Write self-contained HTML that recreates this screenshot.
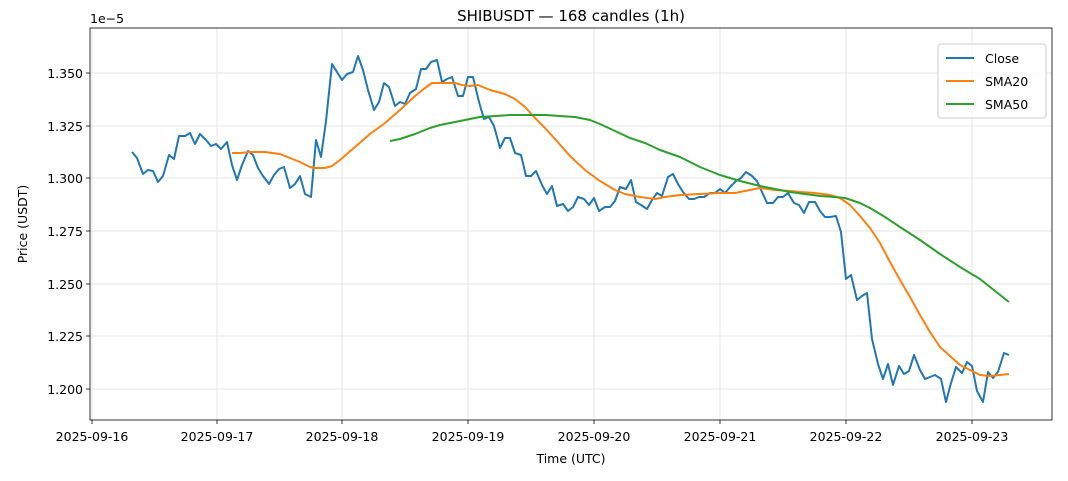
<!DOCTYPE html>
<html><head><meta charset="utf-8"><style>body{margin:0;background:#fff}svg{display:block;font-family:"DejaVu Sans","Liberation Sans",sans-serif}</style></head><body>
<svg width="1068" height="481" viewBox="0 0 1068 481">
<g stroke="#e5e5e5" stroke-width="1">
<line x1="92" y1="28" x2="92" y2="420"/><line x1="217" y1="28" x2="217" y2="420"/><line x1="342" y1="28" x2="342" y2="420"/><line x1="468" y1="28" x2="468" y2="420"/><line x1="594" y1="28" x2="594" y2="420"/><line x1="720" y1="28" x2="720" y2="420"/><line x1="846" y1="28" x2="846" y2="420"/><line x1="972" y1="28" x2="972" y2="420"/>
<line x1="90" y1="389" x2="1052" y2="389"/><line x1="90" y1="336" x2="1052" y2="336"/><line x1="90" y1="284" x2="1052" y2="284"/><line x1="90" y1="231" x2="1052" y2="231"/><line x1="90" y1="178" x2="1052" y2="178"/><line x1="90" y1="126" x2="1052" y2="126"/><line x1="90" y1="73" x2="1052" y2="73"/>
</g>
<rect x="90" y="28" width="962" height="392" fill="none" stroke="#000" stroke-width="0.8"/>
<g stroke="#000" stroke-width="0.8">
<line x1="92" y1="420" x2="92" y2="424"/><line x1="217" y1="420" x2="217" y2="424"/><line x1="342" y1="420" x2="342" y2="424"/><line x1="468" y1="420" x2="468" y2="424"/><line x1="594" y1="420" x2="594" y2="424"/><line x1="720" y1="420" x2="720" y2="424"/><line x1="846" y1="420" x2="846" y2="424"/><line x1="972" y1="420" x2="972" y2="424"/>
<line x1="86" y1="389" x2="90" y2="389"/><line x1="86" y1="336" x2="90" y2="336"/><line x1="86" y1="284" x2="90" y2="284"/><line x1="86" y1="231" x2="90" y2="231"/><line x1="86" y1="178" x2="90" y2="178"/><line x1="86" y1="126" x2="90" y2="126"/><line x1="86" y1="73" x2="90" y2="73"/>
</g>
<g font-size="12.5" fill="#000" text-anchor="middle">
<text x="92" y="441">2025-09-16</text><text x="217" y="441">2025-09-17</text><text x="342" y="441">2025-09-18</text><text x="468" y="441">2025-09-19</text><text x="594" y="441">2025-09-20</text><text x="720" y="441">2025-09-21</text><text x="846" y="441">2025-09-22</text><text x="972" y="441">2025-09-23</text>
<text x="571" y="463">Time (UTC)</text>
<text x="571" y="21" font-size="15">SHIBUSDT — 168 candles (1h)</text>
<text transform="translate(27,224) rotate(-90)">Price (USDT)</text>
</g>
<g font-size="12.5" fill="#000" text-anchor="end">
<text x="83" y="394">1.200</text><text x="83" y="341">1.225</text><text x="83" y="289">1.250</text><text x="83" y="236">1.275</text><text x="83" y="183">1.300</text><text x="83" y="131">1.325</text><text x="83" y="78">1.350</text>
</g>
<text x="90" y="23" font-size="12.5">1e−5</text>
<g fill="none" stroke-width="2" stroke-linejoin="round">
<polyline stroke="#1f77b4" points="132,152 137,158 143,174 148,170 153,171 158,182 163,176 169,155 174,159 179,136 185,136 190,133 195,144 200,134 206,140 211,146 216,144 221,149 227,142 232,165 237,180 242,165 248,151 253,155 258,168 263,176 269,184 274,175 279,169 284,167 290,188 295,184 300,176 305,194 311,197 316,140 321,157 326,121 332,64 337,72 342,80 347,74 353,72 358,56 363,70 368,90 374,110 379,102 384,83 389,87 395,106 400,102 405,104 410,93 416,89 421,69 426,69 431,62 437,60 442,82 447,79 452,77 458,96 463,96 468,77 473,77 479,102 484,119 489,117 494,126 500,148 505,138 510,138 515,153 521,155 526,176 531,176 536,171 542,185 547,194 552,186 557,206 563,204 568,211 573,207 578,197 584,199 589,205 594,198 599,211 605,207 610,207 615,201 620,187 626,189 631,180 636,202 641,205 647,209 652,200 657,193 662,196 668,177 673,174 678,184 683,192 689,199 694,199 699,197 704,197 710,193 715,193 720,189 725,193 731,186 736,181 741,178 746,172 752,176 757,181 762,192 767,203 773,203 778,197 783,197 788,193 794,203 799,205 804,213 809,202 815,202 820,211 825,217 830,217 836,216 841,232 846,279 851,275 857,300 862,296 867,293 872,339 878,364 883,379 888,364 893,385 899,366 904,374 909,371 914,355 920,370 925,379 930,377 935,375 941,379 946,402 951,383 956,367 962,373 967,362 972,366 977,391 983,402 988,372 993,378 998,372 1004,353 1009,355"/>
<polyline stroke="#ff7f0e" points="232,153 240,153 250,152 265,152 280,154 290,158 300,162 310,167 315,168 325,168 332,166 340,160 355,147 370,134 385,123 400,110 415,96 425,88 432,83 440,83 455,83 462,85 470,86 478,85 490,90 505,94 515,99 525,107 535,118 545,128 555,139 570,156 585,170 600,181 615,190 625,194 640,197 655,199 665,197 680,195 700,194 720,193 735,193 750,190 760,188 775,190 790,191 800,192 815,193 830,195 840,198 850,205 860,216 870,228 880,243 890,262 900,280 910,297 920,315 930,332 940,347 950,356 960,365 970,370 980,375 990,376 1000,375 1009,374"/>
<polyline stroke="#2ca02c" points="390,141 400,139 415,134 430,128 440,125 460,121 470,119 480,117 495,116 510,115 530,115 545,115 560,116 575,117 590,120 600,124 615,131 630,138 645,143 660,150 680,157 700,167 720,175 740,181 760,186 775,189 790,192 805,194 820,196 835,197 845,198 860,203 870,208 885,217 900,227 920,240 940,254 960,267 980,279 995,291 1009,302"/>
</g>
<rect x="938" y="44" width="108" height="74" rx="3" fill="#fff" fill-opacity="0.8" stroke="#ccc"/>
<g stroke-width="2"><line x1="946" y1="58" x2="974" y2="58" stroke="#1f77b4"/><line x1="946" y1="81" x2="974" y2="81" stroke="#ff7f0e"/><line x1="946" y1="104" x2="974" y2="104" stroke="#2ca02c"/></g>
<g font-size="12.5"><text x="985" y="63">Close</text><text x="985" y="86">SMA20</text><text x="985" y="109">SMA50</text></g>
</svg></body></html>
